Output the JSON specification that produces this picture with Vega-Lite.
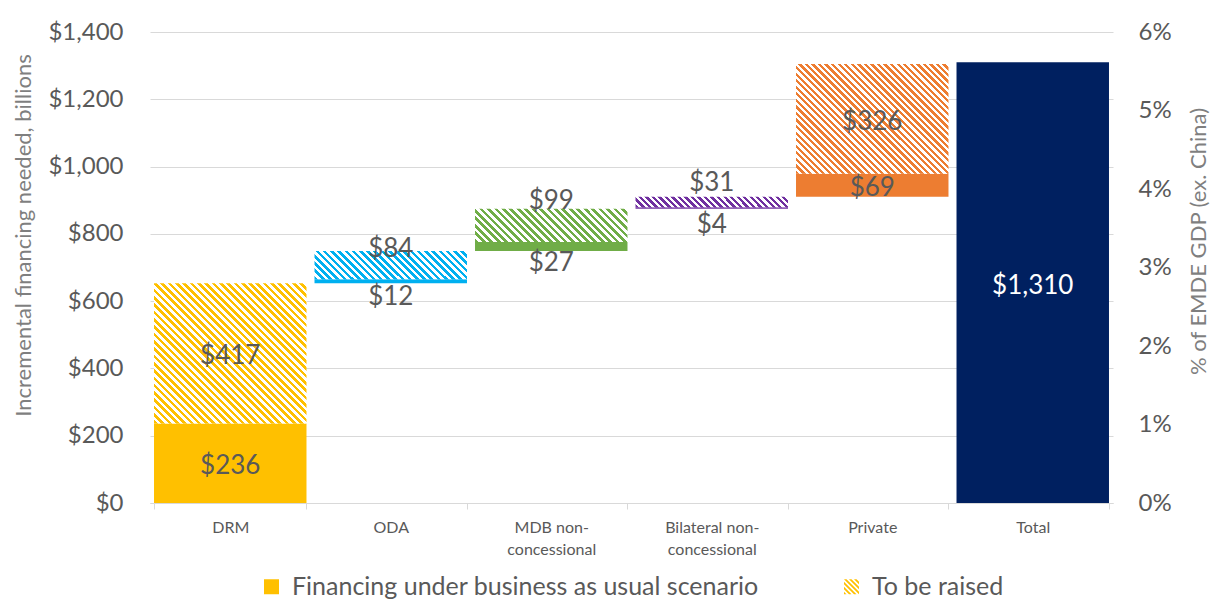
{
"$schema": "https://vega.github.io/schema/vega-lite/v6.json",
"width": 963, "height": 471,
"autosize": {"type": "none"},
"padding": {"left": 150, "top": 32, "right": 103, "bottom": 100},
"background": "white",
"datasets": {
"bars": [
{"cat":"DRM","series":"Financing under business as usual scenario","lo":0,"hi":236,"val":236},
{"cat":"DRM","series":"To be raised","lo":236,"hi":653,"val":417},
{"cat":"ODA","series":"Financing under business as usual scenario","lo":653,"hi":665,"val":12},
{"cat":"ODA","series":"To be raised","lo":665,"hi":749,"val":84},
{"cat":"MDB non-concessional","series":"Financing under business as usual scenario","lo":749,"hi":776,"val":27},
{"cat":"MDB non-concessional","series":"To be raised","lo":776,"hi":875,"val":99},
{"cat":"Bilateral non-concessional","series":"Financing under business as usual scenario","lo":875,"hi":879,"val":4},
{"cat":"Bilateral non-concessional","series":"To be raised","lo":879,"hi":910,"val":31},
{"cat":"Private","series":"Financing under business as usual scenario","lo":910,"hi":979,"val":69},
{"cat":"Private","series":"To be raised","lo":979,"hi":1305,"val":326},
{"cat":"Total","series":"Total","lo":0,"hi":1310,"val":1310}
]
},
"layer": [
{
"data": {"name": "bars"},
"encoding": {
"x": {"field": "cat", "type": "nominal", "sort": ["DRM","ODA","MDB non-concessional","Bilateral non-concessional","Private","Total"], "scale": {"paddingInner": 0.05, "paddingOuter": 0.025}, "axis": {"title": null, "labelAngle": 0, "labelExpr": "datum.value == 'MDB non-concessional' ? ['MDB non-', 'concessional'] : datum.value == 'Bilateral non-concessional' ? ['Bilateral non-', 'concessional'] : datum.value"}}
},
"layer": [
{
"transform": [{"filter": "datum.series !== 'To be raised'"}],
"mark": {"type": "bar"},
"encoding": {
"y": {"field": "lo", "type": "quantitative", "title": "Incremental financing needed, billions", "scale": {"domain": [0, 1400], "nice": false}, "axis": {"values": [0,200,400,600,800,1000,1200,1400], "labelExpr": "'$' + format(datum.value, ',')"}},
"y2": {"field": "hi"},
"color": {"field": "cat", "type": "nominal", "scale": {"domain": ["DRM","ODA","MDB non-concessional","Bilateral non-concessional","Private","Total"], "range": ["#FFC000","#00B0F0","#70AD47","#7030A0","#ED7D31","#002060"]}, "legend": null}
}
},
{
"transform": [{"filter": "datum.series === 'To be raised' && datum.cat === 'DRM'"}],
"mark": {"type": "bar", "fill": {"gradient": "linear", "x1": 0, "y1": 1, "x2": 1.04, "y2": 0.043, "stops": [
{"offset":0,"color":"#FFC000"},{"offset":0.0125,"color":"#FFC000"},{"offset":0.0125,"color":"#fff"},{"offset":0.025,"color":"#fff"},
{"offset":0.025,"color":"#FFC000"},{"offset":0.0375,"color":"#FFC000"},{"offset":0.0375,"color":"#fff"},{"offset":0.05,"color":"#fff"},
{"offset":0.05,"color":"#FFC000"},{"offset":0.0625,"color":"#FFC000"},{"offset":0.0625,"color":"#fff"},{"offset":0.075,"color":"#fff"},
{"offset":0.075,"color":"#FFC000"},{"offset":0.0875,"color":"#FFC000"},{"offset":0.0875,"color":"#fff"},{"offset":0.1,"color":"#fff"},
{"offset":0.1,"color":"#FFC000"},{"offset":0.1125,"color":"#FFC000"},{"offset":0.1125,"color":"#fff"},{"offset":0.125,"color":"#fff"},
{"offset":0.125,"color":"#FFC000"},{"offset":0.1375,"color":"#FFC000"},{"offset":0.1375,"color":"#fff"},{"offset":0.15,"color":"#fff"},
{"offset":0.15,"color":"#FFC000"},{"offset":0.1625,"color":"#FFC000"},{"offset":0.1625,"color":"#fff"},{"offset":0.175,"color":"#fff"},
{"offset":0.175,"color":"#FFC000"},{"offset":0.1875,"color":"#FFC000"},{"offset":0.1875,"color":"#fff"},{"offset":0.2,"color":"#fff"},
{"offset":0.2,"color":"#FFC000"},{"offset":0.2125,"color":"#FFC000"},{"offset":0.2125,"color":"#fff"},{"offset":0.225,"color":"#fff"},
{"offset":0.225,"color":"#FFC000"},{"offset":0.2375,"color":"#FFC000"},{"offset":0.2375,"color":"#fff"},{"offset":0.25,"color":"#fff"},
{"offset":0.25,"color":"#FFC000"},{"offset":0.2625,"color":"#FFC000"},{"offset":0.2625,"color":"#fff"},{"offset":0.275,"color":"#fff"},
{"offset":0.275,"color":"#FFC000"},{"offset":0.2875,"color":"#FFC000"},{"offset":0.2875,"color":"#fff"},{"offset":0.3,"color":"#fff"},
{"offset":0.3,"color":"#FFC000"},{"offset":0.3125,"color":"#FFC000"},{"offset":0.3125,"color":"#fff"},{"offset":0.325,"color":"#fff"},
{"offset":0.325,"color":"#FFC000"},{"offset":0.3375,"color":"#FFC000"},{"offset":0.3375,"color":"#fff"},{"offset":0.35,"color":"#fff"},
{"offset":0.35,"color":"#FFC000"},{"offset":0.3625,"color":"#FFC000"},{"offset":0.3625,"color":"#fff"},{"offset":0.375,"color":"#fff"},
{"offset":0.375,"color":"#FFC000"},{"offset":0.3875,"color":"#FFC000"},{"offset":0.3875,"color":"#fff"},{"offset":0.4,"color":"#fff"},
{"offset":0.4,"color":"#FFC000"},{"offset":0.4125,"color":"#FFC000"},{"offset":0.4125,"color":"#fff"},{"offset":0.425,"color":"#fff"},
{"offset":0.425,"color":"#FFC000"},{"offset":0.4375,"color":"#FFC000"},{"offset":0.4375,"color":"#fff"},{"offset":0.45,"color":"#fff"},
{"offset":0.45,"color":"#FFC000"},{"offset":0.4625,"color":"#FFC000"},{"offset":0.4625,"color":"#fff"},{"offset":0.475,"color":"#fff"},
{"offset":0.475,"color":"#FFC000"},{"offset":0.4875,"color":"#FFC000"},{"offset":0.4875,"color":"#fff"},{"offset":0.5,"color":"#fff"},
{"offset":0.5,"color":"#FFC000"},{"offset":0.5125,"color":"#FFC000"},{"offset":0.5125,"color":"#fff"},{"offset":0.525,"color":"#fff"},
{"offset":0.525,"color":"#FFC000"},{"offset":0.5375,"color":"#FFC000"},{"offset":0.5375,"color":"#fff"},{"offset":0.55,"color":"#fff"},
{"offset":0.55,"color":"#FFC000"},{"offset":0.5625,"color":"#FFC000"},{"offset":0.5625,"color":"#fff"},{"offset":0.575,"color":"#fff"},
{"offset":0.575,"color":"#FFC000"},{"offset":0.5875,"color":"#FFC000"},{"offset":0.5875,"color":"#fff"},{"offset":0.6,"color":"#fff"},
{"offset":0.6,"color":"#FFC000"},{"offset":0.6125,"color":"#FFC000"},{"offset":0.6125,"color":"#fff"},{"offset":0.625,"color":"#fff"},
{"offset":0.625,"color":"#FFC000"},{"offset":0.6375,"color":"#FFC000"},{"offset":0.6375,"color":"#fff"},{"offset":0.65,"color":"#fff"},
{"offset":0.65,"color":"#FFC000"},{"offset":0.6625,"color":"#FFC000"},{"offset":0.6625,"color":"#fff"},{"offset":0.675,"color":"#fff"},
{"offset":0.675,"color":"#FFC000"},{"offset":0.6875,"color":"#FFC000"},{"offset":0.6875,"color":"#fff"},{"offset":0.7,"color":"#fff"},
{"offset":0.7,"color":"#FFC000"},{"offset":0.7125,"color":"#FFC000"},{"offset":0.7125,"color":"#fff"},{"offset":0.725,"color":"#fff"},
{"offset":0.725,"color":"#FFC000"},{"offset":0.7375,"color":"#FFC000"},{"offset":0.7375,"color":"#fff"},{"offset":0.75,"color":"#fff"},
{"offset":0.75,"color":"#FFC000"},{"offset":0.7625,"color":"#FFC000"},{"offset":0.7625,"color":"#fff"},{"offset":0.775,"color":"#fff"},
{"offset":0.775,"color":"#FFC000"},{"offset":0.7875,"color":"#FFC000"},{"offset":0.7875,"color":"#fff"},{"offset":0.8,"color":"#fff"},
{"offset":0.8,"color":"#FFC000"},{"offset":0.8125,"color":"#FFC000"},{"offset":0.8125,"color":"#fff"},{"offset":0.825,"color":"#fff"},
{"offset":0.825,"color":"#FFC000"},{"offset":0.8375,"color":"#FFC000"},{"offset":0.8375,"color":"#fff"},{"offset":0.85,"color":"#fff"},
{"offset":0.85,"color":"#FFC000"},{"offset":0.8625,"color":"#FFC000"},{"offset":0.8625,"color":"#fff"},{"offset":0.875,"color":"#fff"},
{"offset":0.875,"color":"#FFC000"},{"offset":0.8875,"color":"#FFC000"},{"offset":0.8875,"color":"#fff"},{"offset":0.9,"color":"#fff"},
{"offset":0.9,"color":"#FFC000"},{"offset":0.9125,"color":"#FFC000"},{"offset":0.9125,"color":"#fff"},{"offset":0.925,"color":"#fff"},
{"offset":0.925,"color":"#FFC000"},{"offset":0.9375,"color":"#FFC000"},{"offset":0.9375,"color":"#fff"},{"offset":0.95,"color":"#fff"},
{"offset":0.95,"color":"#FFC000"},{"offset":0.9625,"color":"#FFC000"},{"offset":0.9625,"color":"#fff"},{"offset":0.975,"color":"#fff"},
{"offset":0.975,"color":"#FFC000"},{"offset":0.9875,"color":"#FFC000"},{"offset":0.9875,"color":"#fff"},{"offset":1,"color":"#fff"}
]}},
"encoding": {"y": {"field": "lo", "type": "quantitative", "title": "Incremental financing needed, billions"}, "y2": {"field": "hi"}}
},
{
"transform": [{"filter": "datum.series === 'To be raised' && datum.cat === 'ODA'"}],
"mark": {"type": "bar", "fill": {"gradient": "linear", "x1": 0, "y1": 1, "x2": 1.146, "y2": 0.787, "stops": [
{"offset":0,"color":"#00B0F0"},{"offset":0.02,"color":"#00B0F0"},{"offset":0.02,"color":"#fff"},{"offset":0.04,"color":"#fff"},
{"offset":0.04,"color":"#00B0F0"},{"offset":0.06,"color":"#00B0F0"},{"offset":0.06,"color":"#fff"},{"offset":0.08,"color":"#fff"},
{"offset":0.08,"color":"#00B0F0"},{"offset":0.1,"color":"#00B0F0"},{"offset":0.1,"color":"#fff"},{"offset":0.12,"color":"#fff"},
{"offset":0.12,"color":"#00B0F0"},{"offset":0.14,"color":"#00B0F0"},{"offset":0.14,"color":"#fff"},{"offset":0.16,"color":"#fff"},
{"offset":0.16,"color":"#00B0F0"},{"offset":0.18,"color":"#00B0F0"},{"offset":0.18,"color":"#fff"},{"offset":0.2,"color":"#fff"},
{"offset":0.2,"color":"#00B0F0"},{"offset":0.22,"color":"#00B0F0"},{"offset":0.22,"color":"#fff"},{"offset":0.24,"color":"#fff"},
{"offset":0.24,"color":"#00B0F0"},{"offset":0.26,"color":"#00B0F0"},{"offset":0.26,"color":"#fff"},{"offset":0.28,"color":"#fff"},
{"offset":0.28,"color":"#00B0F0"},{"offset":0.3,"color":"#00B0F0"},{"offset":0.3,"color":"#fff"},{"offset":0.32,"color":"#fff"},
{"offset":0.32,"color":"#00B0F0"},{"offset":0.34,"color":"#00B0F0"},{"offset":0.34,"color":"#fff"},{"offset":0.36,"color":"#fff"},
{"offset":0.36,"color":"#00B0F0"},{"offset":0.38,"color":"#00B0F0"},{"offset":0.38,"color":"#fff"},{"offset":0.4,"color":"#fff"},
{"offset":0.4,"color":"#00B0F0"},{"offset":0.42,"color":"#00B0F0"},{"offset":0.42,"color":"#fff"},{"offset":0.44,"color":"#fff"},
{"offset":0.44,"color":"#00B0F0"},{"offset":0.46,"color":"#00B0F0"},{"offset":0.46,"color":"#fff"},{"offset":0.48,"color":"#fff"},
{"offset":0.48,"color":"#00B0F0"},{"offset":0.5,"color":"#00B0F0"},{"offset":0.5,"color":"#fff"},{"offset":0.52,"color":"#fff"},
{"offset":0.52,"color":"#00B0F0"},{"offset":0.54,"color":"#00B0F0"},{"offset":0.54,"color":"#fff"},{"offset":0.56,"color":"#fff"},
{"offset":0.56,"color":"#00B0F0"},{"offset":0.58,"color":"#00B0F0"},{"offset":0.58,"color":"#fff"},{"offset":0.6,"color":"#fff"},
{"offset":0.6,"color":"#00B0F0"},{"offset":0.62,"color":"#00B0F0"},{"offset":0.62,"color":"#fff"},{"offset":0.64,"color":"#fff"},
{"offset":0.64,"color":"#00B0F0"},{"offset":0.66,"color":"#00B0F0"},{"offset":0.66,"color":"#fff"},{"offset":0.68,"color":"#fff"},
{"offset":0.68,"color":"#00B0F0"},{"offset":0.7,"color":"#00B0F0"},{"offset":0.7,"color":"#fff"},{"offset":0.72,"color":"#fff"},
{"offset":0.72,"color":"#00B0F0"},{"offset":0.74,"color":"#00B0F0"},{"offset":0.74,"color":"#fff"},{"offset":0.76,"color":"#fff"},
{"offset":0.76,"color":"#00B0F0"},{"offset":0.78,"color":"#00B0F0"},{"offset":0.78,"color":"#fff"},{"offset":0.8,"color":"#fff"},
{"offset":0.8,"color":"#00B0F0"},{"offset":0.82,"color":"#00B0F0"},{"offset":0.82,"color":"#fff"},{"offset":0.84,"color":"#fff"},
{"offset":0.84,"color":"#00B0F0"},{"offset":0.86,"color":"#00B0F0"},{"offset":0.86,"color":"#fff"},{"offset":0.88,"color":"#fff"},
{"offset":0.88,"color":"#00B0F0"},{"offset":0.9,"color":"#00B0F0"},{"offset":0.9,"color":"#fff"},{"offset":0.92,"color":"#fff"},
{"offset":0.92,"color":"#00B0F0"},{"offset":0.94,"color":"#00B0F0"},{"offset":0.94,"color":"#fff"},{"offset":0.96,"color":"#fff"},
{"offset":0.96,"color":"#00B0F0"},{"offset":0.98,"color":"#00B0F0"},{"offset":0.98,"color":"#fff"},{"offset":1,"color":"#fff"}
]}},
"encoding": {"y": {"field": "lo", "type": "quantitative", "title": "Incremental financing needed, billions"}, "y2": {"field": "hi"}}
},
{
"transform": [{"filter": "datum.series === 'To be raised' && datum.cat === 'MDB non-concessional'"}],
"mark": {"type": "bar", "fill": {"gradient": "linear", "x1": 0, "y1": 1, "x2": 1.163, "y2": 0.746, "stops": [
{"offset":0,"color":"#70AD47"},{"offset":0.02,"color":"#70AD47"},{"offset":0.02,"color":"#fff"},{"offset":0.04,"color":"#fff"},
{"offset":0.04,"color":"#70AD47"},{"offset":0.06,"color":"#70AD47"},{"offset":0.06,"color":"#fff"},{"offset":0.08,"color":"#fff"},
{"offset":0.08,"color":"#70AD47"},{"offset":0.1,"color":"#70AD47"},{"offset":0.1,"color":"#fff"},{"offset":0.12,"color":"#fff"},
{"offset":0.12,"color":"#70AD47"},{"offset":0.14,"color":"#70AD47"},{"offset":0.14,"color":"#fff"},{"offset":0.16,"color":"#fff"},
{"offset":0.16,"color":"#70AD47"},{"offset":0.18,"color":"#70AD47"},{"offset":0.18,"color":"#fff"},{"offset":0.2,"color":"#fff"},
{"offset":0.2,"color":"#70AD47"},{"offset":0.22,"color":"#70AD47"},{"offset":0.22,"color":"#fff"},{"offset":0.24,"color":"#fff"},
{"offset":0.24,"color":"#70AD47"},{"offset":0.26,"color":"#70AD47"},{"offset":0.26,"color":"#fff"},{"offset":0.28,"color":"#fff"},
{"offset":0.28,"color":"#70AD47"},{"offset":0.3,"color":"#70AD47"},{"offset":0.3,"color":"#fff"},{"offset":0.32,"color":"#fff"},
{"offset":0.32,"color":"#70AD47"},{"offset":0.34,"color":"#70AD47"},{"offset":0.34,"color":"#fff"},{"offset":0.36,"color":"#fff"},
{"offset":0.36,"color":"#70AD47"},{"offset":0.38,"color":"#70AD47"},{"offset":0.38,"color":"#fff"},{"offset":0.4,"color":"#fff"},
{"offset":0.4,"color":"#70AD47"},{"offset":0.42,"color":"#70AD47"},{"offset":0.42,"color":"#fff"},{"offset":0.44,"color":"#fff"},
{"offset":0.44,"color":"#70AD47"},{"offset":0.46,"color":"#70AD47"},{"offset":0.46,"color":"#fff"},{"offset":0.48,"color":"#fff"},
{"offset":0.48,"color":"#70AD47"},{"offset":0.5,"color":"#70AD47"},{"offset":0.5,"color":"#fff"},{"offset":0.52,"color":"#fff"},
{"offset":0.52,"color":"#70AD47"},{"offset":0.54,"color":"#70AD47"},{"offset":0.54,"color":"#fff"},{"offset":0.56,"color":"#fff"},
{"offset":0.56,"color":"#70AD47"},{"offset":0.58,"color":"#70AD47"},{"offset":0.58,"color":"#fff"},{"offset":0.6,"color":"#fff"},
{"offset":0.6,"color":"#70AD47"},{"offset":0.62,"color":"#70AD47"},{"offset":0.62,"color":"#fff"},{"offset":0.64,"color":"#fff"},
{"offset":0.64,"color":"#70AD47"},{"offset":0.66,"color":"#70AD47"},{"offset":0.66,"color":"#fff"},{"offset":0.68,"color":"#fff"},
{"offset":0.68,"color":"#70AD47"},{"offset":0.7,"color":"#70AD47"},{"offset":0.7,"color":"#fff"},{"offset":0.72,"color":"#fff"},
{"offset":0.72,"color":"#70AD47"},{"offset":0.74,"color":"#70AD47"},{"offset":0.74,"color":"#fff"},{"offset":0.76,"color":"#fff"},
{"offset":0.76,"color":"#70AD47"},{"offset":0.78,"color":"#70AD47"},{"offset":0.78,"color":"#fff"},{"offset":0.8,"color":"#fff"},
{"offset":0.8,"color":"#70AD47"},{"offset":0.82,"color":"#70AD47"},{"offset":0.82,"color":"#fff"},{"offset":0.84,"color":"#fff"},
{"offset":0.84,"color":"#70AD47"},{"offset":0.86,"color":"#70AD47"},{"offset":0.86,"color":"#fff"},{"offset":0.88,"color":"#fff"},
{"offset":0.88,"color":"#70AD47"},{"offset":0.9,"color":"#70AD47"},{"offset":0.9,"color":"#fff"},{"offset":0.92,"color":"#fff"},
{"offset":0.92,"color":"#70AD47"},{"offset":0.94,"color":"#70AD47"},{"offset":0.94,"color":"#fff"},{"offset":0.96,"color":"#fff"},
{"offset":0.96,"color":"#70AD47"},{"offset":0.98,"color":"#70AD47"},{"offset":0.98,"color":"#fff"},{"offset":1,"color":"#fff"}
]}},
"encoding": {"y": {"field": "lo", "type": "quantitative", "title": "Incremental financing needed, billions"}, "y2": {"field": "hi"}}
},
{
"transform": [{"filter": "datum.series === 'To be raised' && datum.cat === 'Bilateral non-concessional'"}],
"mark": {"type": "bar", "fill": {"gradient": "linear", "x1": 0, "y1": 1, "x2": 1.063, "y2": 0.928, "stops": [
{"offset":0,"color":"#7030A0"},{"offset":0.02,"color":"#7030A0"},{"offset":0.02,"color":"#fff"},{"offset":0.04,"color":"#fff"},
{"offset":0.04,"color":"#7030A0"},{"offset":0.06,"color":"#7030A0"},{"offset":0.06,"color":"#fff"},{"offset":0.08,"color":"#fff"},
{"offset":0.08,"color":"#7030A0"},{"offset":0.1,"color":"#7030A0"},{"offset":0.1,"color":"#fff"},{"offset":0.12,"color":"#fff"},
{"offset":0.12,"color":"#7030A0"},{"offset":0.14,"color":"#7030A0"},{"offset":0.14,"color":"#fff"},{"offset":0.16,"color":"#fff"},
{"offset":0.16,"color":"#7030A0"},{"offset":0.18,"color":"#7030A0"},{"offset":0.18,"color":"#fff"},{"offset":0.2,"color":"#fff"},
{"offset":0.2,"color":"#7030A0"},{"offset":0.22,"color":"#7030A0"},{"offset":0.22,"color":"#fff"},{"offset":0.24,"color":"#fff"},
{"offset":0.24,"color":"#7030A0"},{"offset":0.26,"color":"#7030A0"},{"offset":0.26,"color":"#fff"},{"offset":0.28,"color":"#fff"},
{"offset":0.28,"color":"#7030A0"},{"offset":0.3,"color":"#7030A0"},{"offset":0.3,"color":"#fff"},{"offset":0.32,"color":"#fff"},
{"offset":0.32,"color":"#7030A0"},{"offset":0.34,"color":"#7030A0"},{"offset":0.34,"color":"#fff"},{"offset":0.36,"color":"#fff"},
{"offset":0.36,"color":"#7030A0"},{"offset":0.38,"color":"#7030A0"},{"offset":0.38,"color":"#fff"},{"offset":0.4,"color":"#fff"},
{"offset":0.4,"color":"#7030A0"},{"offset":0.42,"color":"#7030A0"},{"offset":0.42,"color":"#fff"},{"offset":0.44,"color":"#fff"},
{"offset":0.44,"color":"#7030A0"},{"offset":0.46,"color":"#7030A0"},{"offset":0.46,"color":"#fff"},{"offset":0.48,"color":"#fff"},
{"offset":0.48,"color":"#7030A0"},{"offset":0.5,"color":"#7030A0"},{"offset":0.5,"color":"#fff"},{"offset":0.52,"color":"#fff"},
{"offset":0.52,"color":"#7030A0"},{"offset":0.54,"color":"#7030A0"},{"offset":0.54,"color":"#fff"},{"offset":0.56,"color":"#fff"},
{"offset":0.56,"color":"#7030A0"},{"offset":0.58,"color":"#7030A0"},{"offset":0.58,"color":"#fff"},{"offset":0.6,"color":"#fff"},
{"offset":0.6,"color":"#7030A0"},{"offset":0.62,"color":"#7030A0"},{"offset":0.62,"color":"#fff"},{"offset":0.64,"color":"#fff"},
{"offset":0.64,"color":"#7030A0"},{"offset":0.66,"color":"#7030A0"},{"offset":0.66,"color":"#fff"},{"offset":0.68,"color":"#fff"},
{"offset":0.68,"color":"#7030A0"},{"offset":0.7,"color":"#7030A0"},{"offset":0.7,"color":"#fff"},{"offset":0.72,"color":"#fff"},
{"offset":0.72,"color":"#7030A0"},{"offset":0.74,"color":"#7030A0"},{"offset":0.74,"color":"#fff"},{"offset":0.76,"color":"#fff"},
{"offset":0.76,"color":"#7030A0"},{"offset":0.78,"color":"#7030A0"},{"offset":0.78,"color":"#fff"},{"offset":0.8,"color":"#fff"},
{"offset":0.8,"color":"#7030A0"},{"offset":0.82,"color":"#7030A0"},{"offset":0.82,"color":"#fff"},{"offset":0.84,"color":"#fff"},
{"offset":0.84,"color":"#7030A0"},{"offset":0.86,"color":"#7030A0"},{"offset":0.86,"color":"#fff"},{"offset":0.88,"color":"#fff"},
{"offset":0.88,"color":"#7030A0"},{"offset":0.9,"color":"#7030A0"},{"offset":0.9,"color":"#fff"},{"offset":0.92,"color":"#fff"},
{"offset":0.92,"color":"#7030A0"},{"offset":0.94,"color":"#7030A0"},{"offset":0.94,"color":"#fff"},{"offset":0.96,"color":"#fff"},
{"offset":0.96,"color":"#7030A0"},{"offset":0.98,"color":"#7030A0"},{"offset":0.98,"color":"#fff"},{"offset":1,"color":"#fff"}
]}},
"encoding": {"y": {"field": "lo", "type": "quantitative", "title": "Incremental financing needed, billions"}, "y2": {"field": "hi"}}
},
{
"transform": [{"filter": "datum.series === 'To be raised' && datum.cat === 'Private'"}],
"mark": {"type": "bar", "fill": {"gradient": "linear", "x1": 0, "y1": 1, "x2": 1.133, "y2": 0.185, "stops": [
{"offset":0,"color":"#ED7D31"},{"offset":0.0125,"color":"#ED7D31"},{"offset":0.0125,"color":"#fff"},{"offset":0.025,"color":"#fff"},
{"offset":0.025,"color":"#ED7D31"},{"offset":0.0375,"color":"#ED7D31"},{"offset":0.0375,"color":"#fff"},{"offset":0.05,"color":"#fff"},
{"offset":0.05,"color":"#ED7D31"},{"offset":0.0625,"color":"#ED7D31"},{"offset":0.0625,"color":"#fff"},{"offset":0.075,"color":"#fff"},
{"offset":0.075,"color":"#ED7D31"},{"offset":0.0875,"color":"#ED7D31"},{"offset":0.0875,"color":"#fff"},{"offset":0.1,"color":"#fff"},
{"offset":0.1,"color":"#ED7D31"},{"offset":0.1125,"color":"#ED7D31"},{"offset":0.1125,"color":"#fff"},{"offset":0.125,"color":"#fff"},
{"offset":0.125,"color":"#ED7D31"},{"offset":0.1375,"color":"#ED7D31"},{"offset":0.1375,"color":"#fff"},{"offset":0.15,"color":"#fff"},
{"offset":0.15,"color":"#ED7D31"},{"offset":0.1625,"color":"#ED7D31"},{"offset":0.1625,"color":"#fff"},{"offset":0.175,"color":"#fff"},
{"offset":0.175,"color":"#ED7D31"},{"offset":0.1875,"color":"#ED7D31"},{"offset":0.1875,"color":"#fff"},{"offset":0.2,"color":"#fff"},
{"offset":0.2,"color":"#ED7D31"},{"offset":0.2125,"color":"#ED7D31"},{"offset":0.2125,"color":"#fff"},{"offset":0.225,"color":"#fff"},
{"offset":0.225,"color":"#ED7D31"},{"offset":0.2375,"color":"#ED7D31"},{"offset":0.2375,"color":"#fff"},{"offset":0.25,"color":"#fff"},
{"offset":0.25,"color":"#ED7D31"},{"offset":0.2625,"color":"#ED7D31"},{"offset":0.2625,"color":"#fff"},{"offset":0.275,"color":"#fff"},
{"offset":0.275,"color":"#ED7D31"},{"offset":0.2875,"color":"#ED7D31"},{"offset":0.2875,"color":"#fff"},{"offset":0.3,"color":"#fff"},
{"offset":0.3,"color":"#ED7D31"},{"offset":0.3125,"color":"#ED7D31"},{"offset":0.3125,"color":"#fff"},{"offset":0.325,"color":"#fff"},
{"offset":0.325,"color":"#ED7D31"},{"offset":0.3375,"color":"#ED7D31"},{"offset":0.3375,"color":"#fff"},{"offset":0.35,"color":"#fff"},
{"offset":0.35,"color":"#ED7D31"},{"offset":0.3625,"color":"#ED7D31"},{"offset":0.3625,"color":"#fff"},{"offset":0.375,"color":"#fff"},
{"offset":0.375,"color":"#ED7D31"},{"offset":0.3875,"color":"#ED7D31"},{"offset":0.3875,"color":"#fff"},{"offset":0.4,"color":"#fff"},
{"offset":0.4,"color":"#ED7D31"},{"offset":0.4125,"color":"#ED7D31"},{"offset":0.4125,"color":"#fff"},{"offset":0.425,"color":"#fff"},
{"offset":0.425,"color":"#ED7D31"},{"offset":0.4375,"color":"#ED7D31"},{"offset":0.4375,"color":"#fff"},{"offset":0.45,"color":"#fff"},
{"offset":0.45,"color":"#ED7D31"},{"offset":0.4625,"color":"#ED7D31"},{"offset":0.4625,"color":"#fff"},{"offset":0.475,"color":"#fff"},
{"offset":0.475,"color":"#ED7D31"},{"offset":0.4875,"color":"#ED7D31"},{"offset":0.4875,"color":"#fff"},{"offset":0.5,"color":"#fff"},
{"offset":0.5,"color":"#ED7D31"},{"offset":0.5125,"color":"#ED7D31"},{"offset":0.5125,"color":"#fff"},{"offset":0.525,"color":"#fff"},
{"offset":0.525,"color":"#ED7D31"},{"offset":0.5375,"color":"#ED7D31"},{"offset":0.5375,"color":"#fff"},{"offset":0.55,"color":"#fff"},
{"offset":0.55,"color":"#ED7D31"},{"offset":0.5625,"color":"#ED7D31"},{"offset":0.5625,"color":"#fff"},{"offset":0.575,"color":"#fff"},
{"offset":0.575,"color":"#ED7D31"},{"offset":0.5875,"color":"#ED7D31"},{"offset":0.5875,"color":"#fff"},{"offset":0.6,"color":"#fff"},
{"offset":0.6,"color":"#ED7D31"},{"offset":0.6125,"color":"#ED7D31"},{"offset":0.6125,"color":"#fff"},{"offset":0.625,"color":"#fff"},
{"offset":0.625,"color":"#ED7D31"},{"offset":0.6375,"color":"#ED7D31"},{"offset":0.6375,"color":"#fff"},{"offset":0.65,"color":"#fff"},
{"offset":0.65,"color":"#ED7D31"},{"offset":0.6625,"color":"#ED7D31"},{"offset":0.6625,"color":"#fff"},{"offset":0.675,"color":"#fff"},
{"offset":0.675,"color":"#ED7D31"},{"offset":0.6875,"color":"#ED7D31"},{"offset":0.6875,"color":"#fff"},{"offset":0.7,"color":"#fff"},
{"offset":0.7,"color":"#ED7D31"},{"offset":0.7125,"color":"#ED7D31"},{"offset":0.7125,"color":"#fff"},{"offset":0.725,"color":"#fff"},
{"offset":0.725,"color":"#ED7D31"},{"offset":0.7375,"color":"#ED7D31"},{"offset":0.7375,"color":"#fff"},{"offset":0.75,"color":"#fff"},
{"offset":0.75,"color":"#ED7D31"},{"offset":0.7625,"color":"#ED7D31"},{"offset":0.7625,"color":"#fff"},{"offset":0.775,"color":"#fff"},
{"offset":0.775,"color":"#ED7D31"},{"offset":0.7875,"color":"#ED7D31"},{"offset":0.7875,"color":"#fff"},{"offset":0.8,"color":"#fff"},
{"offset":0.8,"color":"#ED7D31"},{"offset":0.8125,"color":"#ED7D31"},{"offset":0.8125,"color":"#fff"},{"offset":0.825,"color":"#fff"},
{"offset":0.825,"color":"#ED7D31"},{"offset":0.8375,"color":"#ED7D31"},{"offset":0.8375,"color":"#fff"},{"offset":0.85,"color":"#fff"},
{"offset":0.85,"color":"#ED7D31"},{"offset":0.8625,"color":"#ED7D31"},{"offset":0.8625,"color":"#fff"},{"offset":0.875,"color":"#fff"},
{"offset":0.875,"color":"#ED7D31"},{"offset":0.8875,"color":"#ED7D31"},{"offset":0.8875,"color":"#fff"},{"offset":0.9,"color":"#fff"},
{"offset":0.9,"color":"#ED7D31"},{"offset":0.9125,"color":"#ED7D31"},{"offset":0.9125,"color":"#fff"},{"offset":0.925,"color":"#fff"},
{"offset":0.925,"color":"#ED7D31"},{"offset":0.9375,"color":"#ED7D31"},{"offset":0.9375,"color":"#fff"},{"offset":0.95,"color":"#fff"},
{"offset":0.95,"color":"#ED7D31"},{"offset":0.9625,"color":"#ED7D31"},{"offset":0.9625,"color":"#fff"},{"offset":0.975,"color":"#fff"},
{"offset":0.975,"color":"#ED7D31"},{"offset":0.9875,"color":"#ED7D31"},{"offset":0.9875,"color":"#fff"},{"offset":1,"color":"#fff"}
]}},
"encoding": {"y": {"field": "lo", "type": "quantitative", "title": "Incremental financing needed, billions"}, "y2": {"field": "hi"}}
},
{
"transform": [{"filter": "datum.series !== 'Total'"}],
"mark": {"type": "point", "opacity": 0, "filled": true, "color": "#FFC000"},
"encoding": {
"y": {"field": "lo", "type": "quantitative", "title": "Incremental financing needed, billions"},
"shape": {"field": "series", "type": "nominal", "scale": {"domain": ["Financing under business as usual scenario", "To be raised"], "range": ["square", "M-1,-1L-0.667,-1L1,0.667L1,1ZM-0.333,-1L0,-1L1,0L1,0.333ZM0.333,-1L0.667,-1L1,-0.667L1,-0.333ZM-1,-0.667L0.667,1L0.333,1L-1,-0.333ZM-1,0L0,1L-0.333,1L-1,0.333ZM-1,0.667L-0.667,1L-1,1Z"]},
"legend": {"orient": "bottom", "direction": "horizontal", "title": null, "symbolSize": 225, "symbolOpacity": 1, "symbolFillColor": "#FFC000", "symbolStrokeWidth": 0, "labelFontSize": 25, "labelLimit": 0, "columnPadding": 80, "labelOffset": 8, "offset": 17,
"encode": {"symbols": {"update": {"opacity": {"value": 1}, "fill": {"value": "#FFC000"}, "strokeWidth": {"value": 0}}}}}
}
}
},
{
"transform": [{"filter": "indexof(['DRM','Private','Total'], datum.cat) >= 0"}, {"calculate": "(datum.lo + datum.hi) / 2", "as": "mid"}],
"mark": {"type": "text", "fontSize": 26, "baseline": "middle", "dy": 3},
"encoding": {
"y": {"field": "mid", "type": "quantitative", "title": "Incremental financing needed, billions"},
"text": {"field": "val", "type": "quantitative", "format": "$,.0f"},
"color": {"condition": {"test": "datum.cat === 'Total'", "value": "#FFFFFF"}, "value": "#595959"}
}
},
{
"transform": [{"filter": "datum.cat === 'ODA' && datum.series === 'To be raised'"}],
"mark": {"type": "text", "fontSize": 26, "baseline": "middle", "dy": -2, "color": "#595959"},
"encoding": {"y": {"field": "hi", "type": "quantitative", "title": "Incremental financing needed, billions"}, "text": {"field": "val", "type": "quantitative", "format": "$,.0f"}}
},
{
"transform": [{"filter": "datum.cat === 'MDB non-concessional' && datum.series === 'To be raised'"}],
"mark": {"type": "text", "fontSize": 26, "baseline": "middle", "dy": -8, "color": "#595959"},
"encoding": {"y": {"field": "hi", "type": "quantitative", "title": "Incremental financing needed, billions"}, "text": {"field": "val", "type": "quantitative", "format": "$,.0f"}}
},
{
"transform": [{"filter": "datum.cat === 'Bilateral non-concessional' && datum.series === 'To be raised'"}],
"mark": {"type": "text", "fontSize": 26, "baseline": "middle", "dy": -14, "color": "#595959"},
"encoding": {"y": {"field": "hi", "type": "quantitative", "title": "Incremental financing needed, billions"}, "text": {"field": "val", "type": "quantitative", "format": "$,.0f"}}
},
{
"transform": [{"filter": "datum.cat === 'ODA' && datum.series !== 'To be raised'"}],
"mark": {"type": "text", "fontSize": 26, "baseline": "middle", "dy": 14, "color": "#595959"},
"encoding": {"y": {"field": "lo", "type": "quantitative", "title": "Incremental financing needed, billions"}, "text": {"field": "val", "type": "quantitative", "format": "$,.0f"}}
},
{
"transform": [{"filter": "datum.cat === 'MDB non-concessional' && datum.series !== 'To be raised'"}],
"mark": {"type": "text", "fontSize": 26, "baseline": "middle", "dy": 12, "color": "#595959"},
"encoding": {"y": {"field": "lo", "type": "quantitative", "title": "Incremental financing needed, billions"}, "text": {"field": "val", "type": "quantitative", "format": "$,.0f"}}
},
{
"transform": [{"filter": "datum.cat === 'Bilateral non-concessional' && datum.series !== 'To be raised'"}],
"mark": {"type": "text", "fontSize": 26, "baseline": "middle", "dy": 16, "color": "#595959"},
"encoding": {"y": {"field": "lo", "type": "quantitative", "title": "Incremental financing needed, billions"}, "text": {"field": "val", "type": "quantitative", "format": "$,.0f"}}
}
]
},
{
"data": {"values": [{"pct": 5.6}]},
"mark": {"type": "point", "opacity": 0},
"encoding": {
"y": {"field": "pct", "type": "quantitative", "scale": {"domain": [0, 6], "nice": false}, "axis": {"orient": "right", "values": [0,1,2,3,4,5,6], "labelExpr": "datum.value + '%'", "title": "% of EMDE GDP (ex. China)"}}
}
}
],
"resolve": {"scale": {"y": "independent"}, "axis": {"y": "independent"}},
"config": {
"view": {"stroke": null},
"font": "Lato",
"text": {"font": "Lato"},
"axis": {"labelFont": "Lato", "titleFont": "Lato", "labelColor": "#595959", "titleColor": "#7F7F7F", "titleFontWeight": "normal"},
"axisLeft": {"grid": true, "gridColor": "#D9D9D9", "domain": false, "ticks": false, "labelFontSize": 24, "labelPadding": 27, "titleFontSize": 22, "titlePadding": 12, "titleY": 203},
"axisRight": {"grid": false, "domain": false, "ticks": false, "labelFontSize": 24, "labelPadding": 25, "titleFontSize": 22, "titlePadding": 17, "titleAngle": 270, "titleBaseline": "top", "titleY": 209},
"axisBottom": {"grid": false, "domainColor": "#D9D9D9", "tickColor": "#D9D9D9", "tickSize": 6, "tickBand": "extent", "labelFontSize": 16, "labelPadding": 10, "labelLineHeight": 22, "labelColor": "#595959"},
"legend": {"labelFont": "Lato", "labelColor": "#595959", "labelFontSize": 25, "layout": {"bottom": {"anchor": "middle"}}}
}
}
